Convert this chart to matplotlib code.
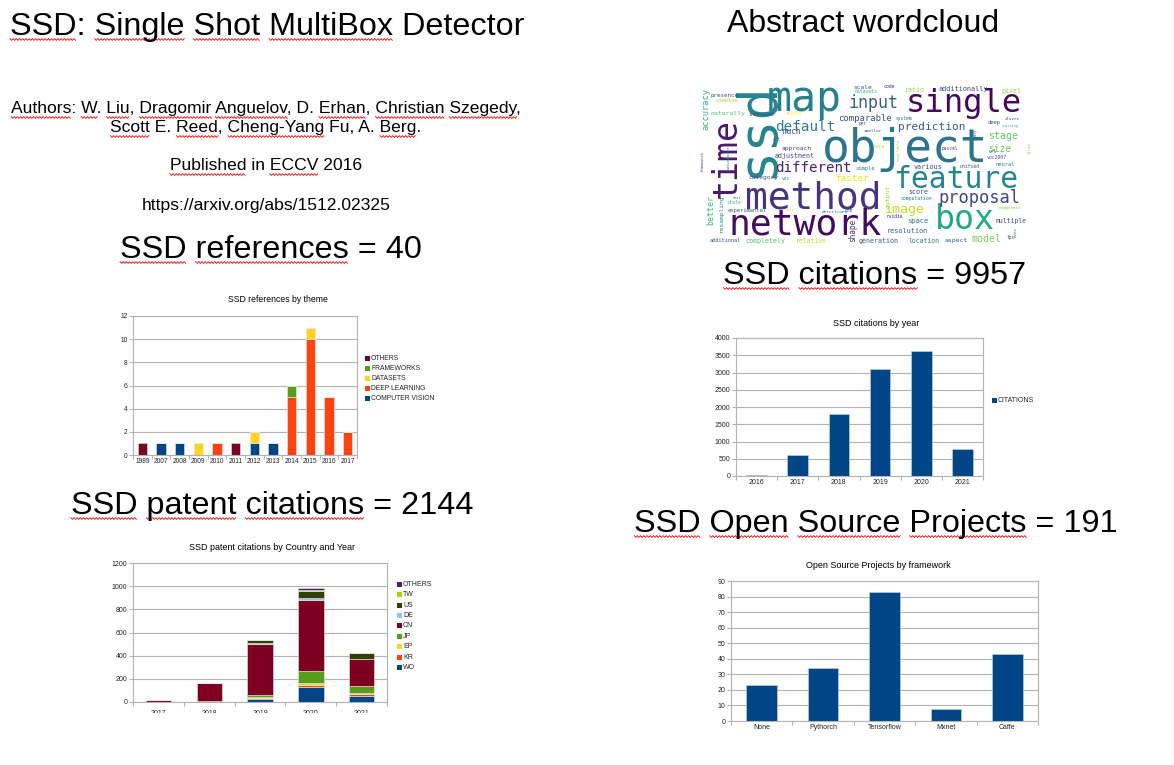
import numpy as np
import matplotlib
matplotlib.use("Agg")
import matplotlib.pyplot as plt
from matplotlib.patches import Rectangle
from matplotlib.lines import Line2D
from matplotlib.font_manager import FontProperties

plt.rcParams['font.family'] = ['Liberation Sans', 'DejaVu Sans']

# ---- data ----
ref_years = ['1989', '2007', '2008', '2009', '2010', '2011', '2012', '2013', '2014', '2015', '2016', '2017']
ref_themes = ['COMPUTER VISION', 'DEEP LEARNING', 'DATASETS', 'FRAMEWORKS', 'OTHERS']
ref_cv = [0, 1, 1, 0, 0, 0, 1, 1, 0, 0, 0, 0]
ref_dl = [0, 0, 0, 0, 1, 0, 0, 0, 5, 10, 5, 2]
ref_ds = [0, 0, 0, 1, 0, 0, 1, 0, 0, 1, 0, 0]
ref_fw = [0, 0, 0, 0, 0, 0, 0, 0, 1, 0, 0, 0]
ref_ot = [1, 0, 0, 0, 0, 1, 0, 0, 0, 0, 0, 0]

cit_years = ['2016', '2017', '2018', '2019', '2020', '2021']
citations = [40, 600, 1790, 3090, 3630, 770]

pat_years = ['2017', '2018', '2019', '2020', '2021']
pat_countries = ['WO', 'KR', 'EP', 'JP', 'CN', 'DE', 'US', 'TW', 'OTHERS']
pat_wo = [0, 0, 25, 127, 50]
pat_kr = [2, 8, 12, 23, 22]
pat_ep = [0, 0, 6, 17, 10]
pat_jp = [0, 0, 20, 98, 53]
pat_cn = [18, 155, 441, 615, 236]
pat_de = [0, 2, 3, 18, 2]
pat_us = [0, 3, 26, 63, 50]
pat_tw = [0, 0, 2, 9, 3]
pat_ot = [0, 0, 2, 15, 0]

oss_frameworks = ['None', 'Pythorch', 'Tensorflow', 'Mxnet', 'Caffe']
oss_projects = [23, 34, 83, 8, 43]

words = ['ssd', 'map', 'single', 'object', 'time', 'method', 'network', 'feature', 'box',
         'proposal', 'input', 'default', 'different', 'prediction', 'image', 'comparable',
         'stage', 'size', 'accuracy', 'better', 'faster', 'model', 'much', 'approach',
         'adjustment', 'naturally', 'presence', 'combine', 'scale', 'ratio', 'additionally',
         'pixel', 'resolution', 'generation', 'location', 'aspect', 'multiple', 'space',
         'score', 'neural', 'various', 'simple', 'category', 'experimental', 'completely',
         'relative', 'additional', 'resampling', 'subsequent', 'framework', 'output', 'shape',
         'available', 'deep', 'training', 'ilsvrc', 'url', 'voc2007', 'pascal', 'set', 'art',
         'per', 'smaller', 'system', 'code', 'datasets', 'inference', 'result', 'unified',
         'computation', 'component', 'test', 'state', 'step', 'detectionn', 'cnn', 'nvidia',
         'coco', 'voc', 'titan', 'easy', 'fps', 'even']

# word cloud layout (zoom coords: cx, cy, length, rotation, viridis value)
word_layout = [
    (188, 163, 290, 90, 0.45), (328, 72, 225, 0, 0.43), (805, 85, 350, 0, 0.02),
    (630, 225, 500, 0, 0.38), (93, 250, 240, 90, 0.07), (355, 370, 410, 0, 0.15),
    (330, 450, 460, 0, 0.03), (782, 315, 375, 0, 0.45), (810, 435, 180, 0, 0.6),
    (852, 370, 245, 0, 0.2), (535, 85, 150, 0, 0.3), (330, 155, 180, 0, 0.42),
    (355, 280, 230, 0, 0.1), (710, 155, 200, 0, 0.27), (630, 405, 120, 0, 0.9),
    (510, 130, 160, 0, 0.24), (925, 182, 90, 0, 0.75), (915, 222, 70, 0, 0.78),
    (32, 102, 125, 90, 0.65), (47, 405, 90, 90, 0.68), (470, 312, 100, 0, 0.97),
    (875, 492, 90, 0, 0.8), (292, 170, 55, 0, 0.2), (305, 220, 90, 0, 0.18),
    (300, 243, 120, 0, 0.23), (97, 117, 105, 0, 0.72), (88, 63, 85, 0, 0.26),
    (95, 78, 70, 0, 0.88), (502, 38, 55, 0, 0.22), (660, 46, 60, 0, 0.85),
    (805, 42, 150, 0, 0.22), (950, 47, 60, 0, 0.85), (638, 467, 125, 0, 0.3),
    (550, 497, 120, 0, 0.3), (688, 497, 95, 0, 0.42), (785, 497, 70, 0, 0.27),
    (948, 437, 95, 0, 0.23), (668, 437, 65, 0, 0.4), (670, 352, 60, 0, 0.21),
    (930, 268, 60, 0, 0.47), (698, 276, 85, 0, 0.25), (510, 282, 60, 0, 0.45),
    (205, 309, 90, 0, 0.27), (155, 408, 120, 0, 0.28), (210, 497, 120, 0, 0.72),
    (348, 497, 95, 0, 0.9), (92, 497, 95, 0, 0.26), (78, 415, 110, 90, 0.45),
    (100, 250, 80, 90, 0.5), (22, 258, 65, 90, 0.26), (578, 365, 70, 90, 0.86),
    (472, 465, 70, 90, 0.15), (611, 225, 70, 90, 0.88), (898, 142, 40, 0, 0.23),
    (945, 152, 50, 0, 0.66), (952, 132, 45, 0, 0.1), (892, 230, 25, 0, 0.3),
    (905, 248, 60, 0, 0.25), (765, 222, 50, 0, 0.14), (187, 212, 25, 0, 0.38),
    (247, 195, 25, 0, 0.3), (502, 147, 25, 0, 0.26), (532, 167, 55, 0, 0.26),
    (625, 130, 50, 0, 0.34), (583, 35, 35, 0, 0.12), (515, 50, 70, 0, 0.66),
    (200, 120, 80, 0, 0.22), (295, 117, 50, 0, 1.0), (825, 276, 60, 0, 0.24),
    (663, 370, 95, 0, 0.4), (945, 400, 70, 0, 0.82), (127, 370, 25, 0, 0.26),
    (117, 382, 45, 0, 0.7), (285, 405, 30, 0, 0.95), (420, 410, 80, 0, 0.48),
    (462, 407, 25, 0, 0.26), (600, 426, 50, 0, 0.08), (552, 216, 35, 0, 0.88),
    (272, 310, 25, 0, 0.43), (1005, 218, 35, 90, 0.8), (842, 172, 25, 90, 0.3),
    (948, 487, 25, 0, 0.24), (962, 470, 30, 90, 0.41),
]

# LibreOffice default palette
lo = ['#004586', '#ff420e', '#ffd320', '#579d1c', '#7e0021', '#83caff', '#314004', '#aecf00', '#4b1f6f']
grid_c = '#b3b3b3'

W, H = 1174, 765
fig = plt.figure(figsize=(W / 100, H / 100), dpi=100)
renderer = fig.canvas.get_renderer()


def px(x, y):
    return x / W, 1 - y / H


def add_ax(x0, y0, x1, y1):
    return fig.add_axes([x0 / W, 1 - y1 / H, (x1 - x0) / W, (y1 - y0) / H])


def txt(x, y, s, size, ha='center', va='baseline', marked=()):
    fig.text(*px(x, y), s, fontsize=size, ha=ha, va=va, color='black')
    if not marked:
        return
    # red spell-check squiggles under some words
    fp = FontProperties(family=['Liberation Sans'], size=size)

    def tw(t):
        return renderer.get_text_width_height_descent(t, fp, ismath=False)[0]
    x0 = x - tw(s) / 2 if ha == 'center' else x
    pos = 0
    for w in marked:
        i = s.index(w, pos)
        pos = i + len(w)
        xe = x0 + tw(s[:pos])
        xs = xe - tw(w)
        xx = np.arange(xs, xe + 0.01, 1.6)
        yy = y + 4.5 + np.where(np.arange(len(xx)) % 2 == 0, -0.9, 0.9)
        fig.add_artist(Line2D(xx / W, 1 - yy / H, color='#ff0000', lw=0.6,
                              transform=fig.transFigure))


def style_ax(ax, cats, ymax, ystep, fs, xpad=2):
    n = len(cats)
    ax.set_xlim(-0.5, n - 0.5)
    ax.set_ylim(0, ymax)
    ax.set_yticks(np.arange(0, ymax + ystep / 2, ystep))
    ax.set_xticks(range(n))
    ax.set_xticklabels(cats)
    ax.set_xticks(np.arange(-0.5, n, 1), minor=True)
    ax.tick_params(axis='x', which='major', length=0, labelsize=fs, pad=xpad, colors='#222222')
    ax.tick_params(axis='x', which='minor', length=3, color=grid_c, width=0.8)
    ax.tick_params(axis='y', length=3, color=grid_c, width=0.8, labelsize=fs, pad=1, labelcolor='#222222')
    ax.grid(axis='y', color=grid_c, lw=0.8)
    ax.set_axisbelow(True)
    for sp in ax.spines.values():
        sp.set_color(grid_c)
        sp.set_linewidth(0.8)


def legend(x, y0, dy, labels, colors, fs):
    for i, (lab, c) in enumerate(zip(labels, colors)):
        y = y0 + i * dy
        fig.patches.append(Rectangle(px(x, y + 2.5), 5 / W, 5 / H, transform=fig.transFigure,
                                     facecolor=c, edgecolor='none'))
        fig.text(*px(x + 6, y), lab, fontsize=fs, ha='left', va='center', color='#222222')


def stack(ax, series, colors):
    bottom = np.zeros(len(series[0]))
    for s, c in zip(series, colors):
        ax.bar(range(len(s)), s, 0.5, bottom=bottom, color=c, edgecolor='#e8e8e8', linewidth=0.4)
        bottom = bottom + np.array(s)


# ---- header texts ----
txt(10, 35, 'SSD: Single Shot MultiBox Detector', 23.3, ha='left',
    marked=('SSD', 'Single', 'Shot', 'MultiBox'))
txt(266, 113, 'Authors: W. Liu, Dragomir Anguelov, D. Erhan, Christian Szegedy,', 12.6,
    marked=('Authors', 'W', 'Liu', 'Dragomir', 'Anguelov', 'Erhan', 'Christian', 'Szegedy'))
txt(266, 132, 'Scott E. Reed, Cheng-Yang Fu, A. Berg.', 12.6,
    marked=('Scott', 'Reed', 'Cheng-Yang', 'Berg'))
txt(266, 170, 'Published in ECCV 2016', 12.6, marked=('Published', 'ECCV'))
txt(266, 210, 'https://arxiv.org/abs/1512.02325', 12.6)
txt(271, 258, 'SSD references = 40', 23.3, marked=('SSD', 'references'))
txt(863, 32, 'Abstract wordcloud', 23)
txt(875, 284, 'SSD citations = 9957', 23.3, marked=('SSD', 'citations'))
txt(272, 514, 'SSD patent citations = 2144', 23.3, marked=('SSD', 'patent', 'citations'))
txt(876, 532, 'SSD Open Source Projects = 191', 23.3,
    marked=('SSD', 'Open', 'Source', 'Projects'))

# ---- references by theme ----
ax = add_ax(133, 316, 357, 455)
stack(ax, [ref_cv, ref_dl, ref_ds, ref_fw, ref_ot], lo[:5])
style_ax(ax, ref_years, 12, 2, 4.8)
txt(278, 300, 'SSD references by theme', 6.2, va='center')
legend(365, 358, 10.2, ref_themes[::-1], lo[:5][::-1], 4.9)

# ---- citations by year ----
ax = add_ax(736, 338, 983, 476)
ax.bar(range(len(citations)), citations, 0.5, color=lo[0], edgecolor='#c8d8e8', linewidth=0.4)
style_ax(ax, cit_years, 4000, 500, 5)
txt(876, 323, 'SSD citations by year', 6.5, va='center')
legend(992, 400, 10, ['CITATIONS'], [lo[0]], 5)

# ---- patent citations ----
ax = add_ax(133, 563, 387, 702)
stack(ax, [pat_wo, pat_kr, pat_ep, pat_jp, pat_cn, pat_de, pat_us, pat_tw, pat_ot], lo)
style_ax(ax, pat_years, 1200, 200, 5, xpad=6)
txt(272, 547, 'SSD patent citations by Country and Year', 6.5, va='center')
legend(397, 584.3, 10.4, pat_countries[::-1], lo[::-1], 5)
# bottom of this chart is cropped in the slide
fig.patches.append(Rectangle(px(100, 765), 360 / W, 52 / H, transform=fig.transFigure,
                             facecolor='white', edgecolor='none', zorder=10))

# ---- open source projects ----
ax = add_ax(731, 581, 1038, 721)
ax.bar(range(len(oss_projects)), oss_projects, 0.5, color=lo[0], edgecolor='#c8d8e8', linewidth=0.4)
style_ax(ax, oss_frameworks, 90, 10, 5)
txt(878, 565, 'Open Source Projects by framework', 6.5, va='center')

# ---- word cloud ----
ax = add_ax(695, 75, 1040, 255)
ax.set_xlim(0, 1035)
ax.set_ylim(540, 0)
ax.axis('off')
cmap = plt.get_cmap('viridis')
for w, (cx, cy, ln, rot, cv) in zip(words, word_layout):
    fs = (ln / 3) / (0.602 * len(w)) * 0.72
    ax.text(cx, cy, w, fontsize=fs, rotation=rot, ha='center', va='center',
            family='DejaVu Sans Mono', color=cmap(cv))

fig.savefig('out.png', dpi=100)
